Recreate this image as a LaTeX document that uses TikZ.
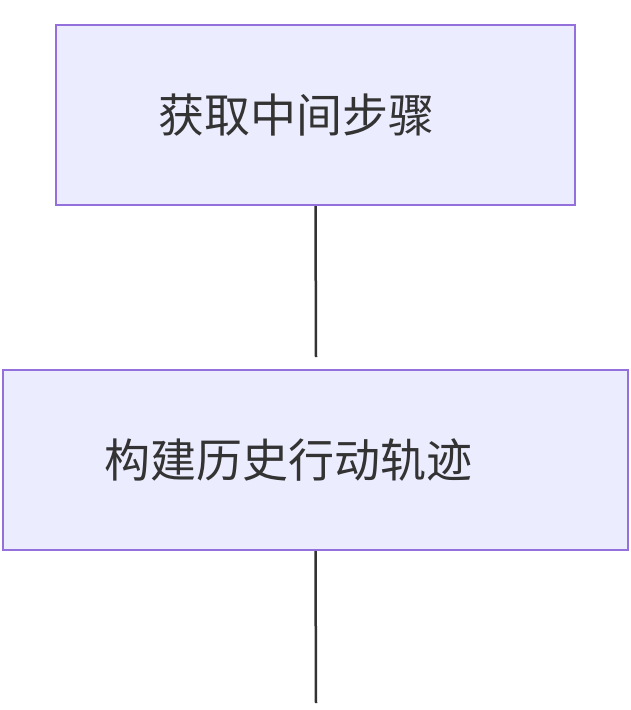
\documentclass[tikz,border=0pt]{standalone}
\usepackage{fontspec}
\newfontfamily\cjk{Noto Sans CJK SC}
\usetikzlibrary{positioning}
\definecolor{boxfill}{HTML}{ECECFF}
\definecolor{boxline}{HTML}{9370DB}
\definecolor{linkcol}{HTML}{333333}
\tikzset{
  stepbox/.style={draw=boxline, fill=boxfill, line width=2pt, text=linkcol,
    font=\cjk\fontsize{46}{52}\selectfont, inner sep=0pt, minimum height=180pt},
  link/.style={draw=linkcol, line width=2.5pt}
}
\begin{document}
\begin{tikzpicture}[x=1pt,y=-1pt]
\useasboundingbox (0,0) rectangle (631,710);
\node[stepbox, minimum width=519pt] (fetch) at (315.5,115) {获取中间步骤\hspace*{38pt}};
\node[stepbox, minimum width=625pt] (build) at (315.5,460) {构建历史行动轨迹\hspace*{54pt}};
\coordinate (gap1) at (316,357);
\coordinate (tail) at (316,703);
\draw[link] (fetch.south) -- (gap1);
\draw[link] (build.south) -- (tail);
\end{tikzpicture}
\end{document}
